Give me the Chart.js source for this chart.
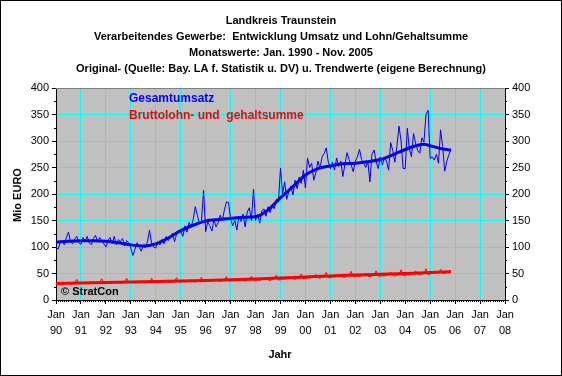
<!DOCTYPE html>
<html><head><meta charset="utf-8">
<script src="https://cdn.jsdelivr.net/npm/chart.js@4/dist/chart.umd.min.js"></script>
<style>html,body{margin:0;padding:0;background:#fff}</style>
</head><body>
<canvas id="c" width="562" height="376"></canvas>
<script>
// ---- texts ----
const titleLines = [
  "Landkreis Traunstein",
  "Verarbeitendes Gewerbe:  Entwicklung Umsatz und Lohn/Gehaltsumme",
  "Monatswerte: Jan. 1990 - Nov. 2005",
  "Original- (Quelle: Bay. LA f. Statistik u. DV) u. Trendwerte (eigene Berechnung)"
];
const seriesNames = ["Gesamtumsatz", "Bruttolohn- und  gehaltsumme"];
const yearLabels = ["90","91","92","93","94","95","96","97","98","99","00","01","02","03","04","05","06","07","08"];
const yTicks = [0, 50, 100, 150, 200, 250, 300, 350, 400];

// ---- monthly values Jan 1990 .. Nov 2005 (Mio EURO) ----
const umsatz = [
  100, 96,108,112,104,118,128,110,106,115,120,108,
  105,118,110,120,108,104,116,122,110,118,112,106,
  100,112,118,106,120,104,114,110,116,102,112,108,
   98, 84, 96,108,100, 92,104, 98,110,132,106,100,
   98,110,104,114,106,120,112,118,126,110,124,128,
  130,120,140,128,146,138,152,176,160,144,150,207,
  129,148,140,130,152,138,146,160,150,170,185,184,
  153,140,150,132,158,148,162,138,166,174,150,209,
  150,162,145,168,172,158,176,165,180,172,190,185,
  249,200,223,190,205,215,198,226,210,232,220,245,
  211,268,250,258,226,240,262,248,270,276,287,260,
  248,260,245,268,252,262,233,256,278,265,255,242,
  262,270,284,265,258,250,262,223,275,283,262,248,
  270,255,268,262,245,297,282,260,290,328,300,248,
  248,324,285,270,314,296,282,277,306,298,350,358,
  267,270,264,275,258,321,290,243,262,274,284
];
const lohn = [
  30,31,30,32,31,33,31,30,31,32,39,32,
  31,32,31,32,33,34,32,31,32,33,40,32,
  32,33,32,33,34,35,33,32,33,34,41,33,
  33,33,32,34,34,36,33,32,34,34,41,33,
  33,34,33,35,35,37,34,33,35,35,42,34,
  34,35,34,36,36,38,35,34,36,36,43,35,
  35,36,35,37,37,39,36,35,37,37,44,36,
  36,37,36,38,38,40,37,36,38,38,45,37,
  37,38,37,39,39,41,38,37,39,40,47,38,
  38,40,39,41,41,44,40,39,41,42,49,40,
  41,42,41,43,43,48,42,41,43,44,52,42,
  42,44,43,45,45,49,43,43,45,46,54,44,
  44,45,44,46,46,51,45,44,46,47,55,45,
  45,46,45,47,47,53,46,45,47,48,57,46,
  46,48,47,49,49,55,48,47,49,50,59,48,
  49,51,50,53,52,58,51,50,52,54,56
];
// ---- trend values (month index from Jan 1990, value) ----
const umsatzTrendMonths = [0,6,12,18,24,30,36,42,48,54,60,66,72,78,84,90,96,102,108,114,120,126,132,138,144,150,156,162,168,174,177,180,186,190];
const umsatzTrend =       [109,111,112,112,111,108,104,102,106,117,131,141,149,152,154,156,157,170,193,214,236,248,253,257,258,261,265,274,284,292,294,291,285,283];
const lohnTrendMonths = [0,12,24,36,48,60,72,84,96,108,120,132,144,156,168,180,190];
const lohnTrend =       [31,32,33,34,35,36,37,38,39.5,41.5,43.5,45.5,47,48.5,50,52,53.5];

const toPts = arr => arr.map((v, i) => ({x: i, y: v}));
const toPtsX = (xs, ys) => xs.map((x, i) => ({x: x, y: ys[i]}));

const FONT = "'Liberation Sans', Arial, sans-serif";

const decor = {
  id: 'decor',
  beforeDraw(chart) {
    const {ctx, chartArea: a} = chart;
    ctx.save();
    ctx.fillStyle = '#fff';
    ctx.fillRect(0, 0, chart.width, chart.height);
    ctx.fillStyle = '#C0C0C0';
    ctx.fillRect(a.left, a.top, a.right - a.left, a.bottom - a.top);
    ctx.restore();
  },
  afterDraw(chart) {
    const {ctx, chartArea: a} = chart;
    const xs = chart.scales.x, ys = chart.scales.y;
    ctx.save();
    // minor ticks
    ctx.strokeStyle = '#000';
    ctx.lineWidth = 1;
    ctx.beginPath();
    for (let m = 1; m < 216; m++) {
      if (m % 12 === 0) continue;
      const px = Math.round(xs.getPixelForValue(m)) + 0.5;
      ctx.moveTo(px, a.bottom); ctx.lineTo(px, a.bottom + 2);
    }
    for (let v = 25; v < 400; v += 50) {
      const py = Math.round(ys.getPixelForValue(v)) + 0.5;
      ctx.moveTo(a.left - 2, py); ctx.lineTo(a.left, py);
      ctx.moveTo(a.right, py); ctx.lineTo(a.right + 2, py);
    }
    ctx.stroke();
    // top border of plot
    ctx.strokeStyle = '#808080';
    ctx.beginPath();
    ctx.moveTo(a.left, Math.round(a.top) + 0.5); ctx.lineTo(a.right, Math.round(a.top) + 0.5);
    ctx.stroke();
    // titles
    ctx.fillStyle = '#000';
    ctx.textAlign = 'center';
    ctx.textBaseline = 'middle';
    ctx.font = 'bold 11px ' + FONT;
    titleLines.forEach((t, i) => ctx.fillText(t, 281, 21 + i * 16));
    ctx.fillText('Jahr', 280, 355);
    ctx.save();
    ctx.translate(18, 195);
    ctx.rotate(-Math.PI / 2);
    ctx.fillText('Mio EURO', 0, 0);
    ctx.restore();
    // legend texts
    ctx.textAlign = 'left';
    ctx.font = 'bold 12px ' + FONT;
    ctx.fillStyle = '#0000FF';
    ctx.fillText(seriesNames[0], 129, 99);
    ctx.fillStyle = '#FF0000';
    ctx.fillText(seriesNames[1], 129, 116);
    ctx.fillStyle = '#000';
    ctx.font = 'bold 11px ' + FONT;
    ctx.fillText('\u00A9 StratCon', 61, 292);
    // outer border
    ctx.strokeStyle = '#000';
    ctx.strokeRect(0.5, 0.5, chart.width - 1, chart.height - 1);
    ctx.restore();
  }
};

new Chart(document.getElementById('c'), {
  type: 'line',
  data: {
    datasets: [
      {label: seriesNames[0] + ' Trend', data: toPtsX(umsatzTrendMonths, umsatzTrend), borderColor: '#0000FF', borderWidth: 3, pointRadius: 0, cubicInterpolationMode: 'monotone', order: 0},
      {label: seriesNames[1] + ' Trend', data: toPtsX(lohnTrendMonths, lohnTrend), borderColor: '#FF0000', borderWidth: 3, pointRadius: 0, cubicInterpolationMode: 'monotone', order: 1},
      {label: seriesNames[0], data: toPts(umsatz), borderColor: '#0000FF', borderWidth: 1, pointRadius: 0, tension: 0, order: 2},
      {label: seriesNames[1], data: toPts(lohn), borderColor: '#FF0000', borderWidth: 1, pointRadius: 0, tension: 0, order: 3}
    ]
  },
  options: {
    responsive: false,
    animation: false,
    devicePixelRatio: 1,
    layout: {padding: {top: 88, left: 0, right: 0, bottom: 0}},
    plugins: {legend: {display: false}, title: {display: false}, tooltip: {enabled: false}},
    scales: {
      x: {
        type: 'linear', min: 0, max: 216,
        afterFit(s) { s.height = 76; },
        afterBuildTicks(s) { s.ticks = yearLabels.map((l, i) => ({value: i * 12})); },
        ticks: {
          autoSkip: false, maxRotation: 0, padding: 3,
          color: '#000', font: {family: FONT, size: 11, lineHeight: 1.45},
          callback: (v) => ['Jan', yearLabels[Math.round(v / 12)]]
        },
        grid: {color: '#00FFFF', lineWidth: 1, tickLength: 4, tickColor: '#000'},
        border: {color: '#000', width: 1}
      },
      y: {
        position: 'left', min: 0, max: 400,
        afterFit(s) { s.width = 56; },
        afterBuildTicks(s) { s.ticks = yTicks.map(v => ({value: v})); },
        ticks: {color: '#000', padding: 3, font: {family: FONT, size: 11}},
        grid: {
          color: c => (c.tick && c.tick.value === 0) ? 'rgba(0,0,0,0)' : (c.tick && c.tick.value === 400 ? '#808080' : '#00FFFF'),
          tickLength: 4, tickColor: '#000'
        },
        border: {color: '#000', width: 1}
      },
      y2: {
        position: 'right', min: 0, max: 400,
        afterFit(s) { s.width = 57; },
        afterBuildTicks(s) { s.ticks = yTicks.map(v => ({value: v})); },
        ticks: {color: '#000', padding: 3, font: {family: FONT, size: 11}},
        grid: {drawOnChartArea: false, tickLength: 4, tickColor: '#000'},
        border: {color: '#000', width: 1}
      }
    }
  },
  plugins: [decor]
});
</script>
</body></html>
